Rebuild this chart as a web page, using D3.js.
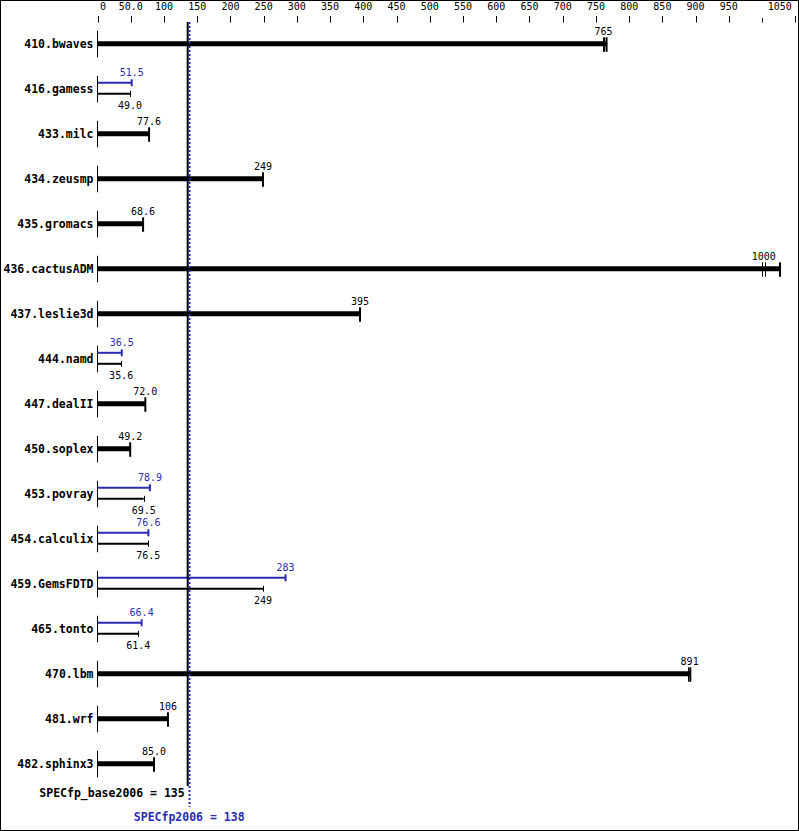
<!DOCTYPE html>
<html><head><meta charset="utf-8">
<script src="https://cdn.jsdelivr.net/npm/d3@7"></script>
<style>body{margin:0;background:#fff}svg{display:block}</style>
</head><body>
<svg id="c" width="799" height="831"></svg>
<script>
const benchmarks = ["410.bwaves","416.gamess","433.milc","434.zeusmp","435.gromacs","436.cactusADM","437.leslie3d","444.namd","447.dealII","450.soplex","453.povray","454.calculix","459.GemsFDTD","465.tonto","470.lbm","481.wrf","482.sphinx3"];
const baseVals = [765,49.0,77.6,249,68.6,1000,395,35.6,72.0,49.2,69.5,76.5,249,61.4,891,106,85.0];
const baseLabels = ["765","49.0","77.6","249","68.6","1000","395","35.6","72.0","49.2","69.5","76.5","249","61.4","891","106","85.0"];
const peakVals = [null,51.5,null,null,null,null,null,36.5,null,null,78.9,76.6,283,66.4,null,null,null];
const peakLabels = [null,"51.5",null,null,null,null,null,"36.5",null,null,"78.9","76.6","283","66.4",null,null,null];
// bar end (max run) and other run ticks where shown
const baseBarEnd = [766,49.0,77.6,249,68.6,1027,395,35.6,72.0,49.2,69.5,76.5,249,61.4,892,106,85.0];
const baseRuns = [[760.5,762.5],[],[],[],[],[1000,1005],[],[],[],[],[],[],[],[],[888.5],[],[]];
const tickVals = [0,50,100,150,200,250,300,350,400,450,500,550,600,650,700,750,800,850,900,950,1000,1050];
const tickLabels = ["0","50.0","100","150","200","250","300","350","400","450","500","550","600","650","700","750","800","850","900","950","","1050"];
const baseMean = 135, peakMean = 138;
const baseMeanLabel = "SPECfp_base2006 = 135", peakMeanLabel = "SPECfp2006 = 138";

const BLUE = "#2b2bb2";
const svg = d3.select("#c");
const x = d3.scaleLinear().domain([0,1050]).range([97.5,795.3]);
const y = d3.scalePoint().domain(benchmarks).range([43.8, 43.8+45*16]);
const mono = "'DejaVu Sans Mono', 'Liberation Mono', monospace";

svg.append("rect").attr("x",0.5).attr("y",0.5).attr("width",798).attr("height",830)
  .attr("fill","#fff").attr("stroke","#000");

// top axis
const ax = svg.append("g");
tickVals.forEach((v,i)=>{
  const tx = Math.round(x(v))+0.5;
  ax.append("line").attr("x1",tx).attr("x2",tx)
    .attr("y1", tickLabels[i]==="" ? 18 : 16).attr("y2",22.5)
    .attr("stroke","#000").attr("stroke-width",1);
  if (tickLabels[i] !== "") {
    let anchor = "middle", lx = x(v);
    if (i===0) { anchor = "start"; lx = x(v)+2.5; }
    if (i===tickVals.length-1) { anchor = "end"; lx = x(v)-3.5; }
    ax.append("text").attr("x",lx).attr("y",10).attr("text-anchor",anchor)
      .attr("font-family",mono).attr("font-size","10px").attr("fill","#000").text(tickLabels[i]);
  }
});

const g = svg.append("g");
benchmarks.forEach((b,i)=>{
  const r = y(b);
  g.append("line").attr("x1",97.5).attr("x2",97.5).attr("y1",r-13).attr("y2",r+13.5)
    .attr("stroke","#000").attr("stroke-width",1);
  g.append("text").attr("x",93.5).attr("y",r+3.8).attr("text-anchor","end")
    .attr("font-family",mono).attr("font-weight","bold").attr("font-size","11.5px").attr("fill","#000").text(b);
  if (peakVals[i] == null) {
    g.append("line").attr("x1",x(0)).attr("x2",x(baseBarEnd[i])).attr("y1",r).attr("y2",r)
      .attr("stroke","#000").attr("stroke-width",5);
    g.append("line").attr("x1",x(baseBarEnd[i])).attr("x2",x(baseBarEnd[i])).attr("y1",r-6.5).attr("y2",r+8)
      .attr("stroke","#000").attr("stroke-width",2);
    baseRuns[i].forEach(rv=>{
      const rx = Math.round(x(rv))+0.5;
      g.append("line").attr("x1",rx).attr("x2",rx).attr("y1",r-6.5).attr("y2",r+8)
        .attr("stroke","#000").attr("stroke-width",1);
    });
    const lv = baseRuns[i].length > 1 ? d3.mean(baseRuns[i]) : baseVals[i];
    g.append("text").attr("x",x(lv)).attr("y",r-8.5).attr("text-anchor","middle")
      .attr("font-family",mono).attr("font-size","10px").attr("fill","#000").text(baseLabels[i]);
  } else {
    const yp = r-6, yb = r+5;
    g.append("line").attr("x1",x(0)).attr("x2",x(peakVals[i])).attr("y1",yp).attr("y2",yp)
      .attr("stroke",BLUE).attr("stroke-width",2);
    g.append("line").attr("x1",x(peakVals[i])).attr("x2",x(peakVals[i])).attr("y1",yp-3.5).attr("y2",yp+3.5)
      .attr("stroke",BLUE).attr("stroke-width",2);
    g.append("text").attr("x",x(peakVals[i])).attr("y",r-13).attr("text-anchor","middle")
      .attr("font-family",mono).attr("font-size","10px").attr("fill",BLUE).text(peakLabels[i]);
    g.append("line").attr("x1",x(0)).attr("x2",x(baseVals[i])).attr("y1",yb).attr("y2",yb)
      .attr("stroke","#000").attr("stroke-width",2);
    const bx = Math.round(x(baseVals[i]))+0.5;
    g.append("line").attr("x1",bx).attr("x2",bx).attr("y1",yb-3).attr("y2",yb+3)
      .attr("stroke","#000").attr("stroke-width",1);
    g.append("text").attr("x",x(baseVals[i])).attr("y",r+20.5).attr("text-anchor","middle")
      .attr("font-family",mono).attr("font-size","10px").attr("fill","#000").text(baseLabels[i]);
  }
});

// mean lines
const bmx = x(baseMean), pmx = x(peakMean);
svg.append("line").attr("x1",bmx+0.5).attr("x2",bmx+0.5).attr("y1",22).attr("y2",786)
  .attr("stroke","#000").attr("stroke-width",2);
svg.append("line").attr("x1",pmx+0.3).attr("x2",pmx+0.3).attr("y1",22).attr("y2",807)
  .attr("stroke",BLUE).attr("stroke-width",2).attr("stroke-dasharray","2,2");
svg.append("text").attr("x",bmx-2.5).attr("y",797).attr("text-anchor","end")
  .attr("font-family",mono).attr("font-weight","bold").attr("font-size","11.5px").attr("fill","#000").text(baseMeanLabel);
svg.append("text").attr("x",pmx).attr("y",821).attr("text-anchor","middle")
  .attr("font-family",mono).attr("font-weight","bold").attr("font-size","11.5px").attr("fill",BLUE).text(peakMeanLabel);
</script>
</body></html>
